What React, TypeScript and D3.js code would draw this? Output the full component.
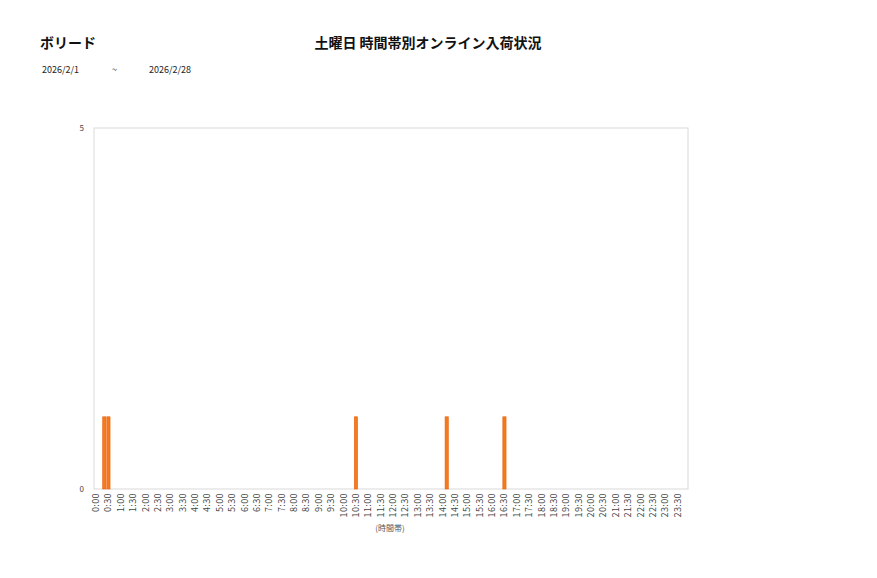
import { useEffect, useRef } from "react";
import * as d3 from "d3";

const W = 877;
const H = 578;
const PLOT = { left: 94, right: 688, top: 128, bottom: 489 };
const FONT = "'Noto Sans CJK JP', 'Noto Sans', sans-serif";

// 10-minute slots across the day; every third one gets a tick label.
const SLOTS: string[] = d3.range(0, 24 * 60, 10).map(
  (m) => `${Math.floor(m / 60)}:${String(m % 60).padStart(2, "0")}`
);
const TICK_LABELS: string[] = SLOTS.filter((_, i) => i % 3 === 0);

// Slots that had arrivals, and how many.
const HIT_SLOTS = ["0:20", "0:30", "10:30", "14:10", "16:30"];
const HIT_COUNTS = [1, 1, 1, 1, 1];

const Y_TICKS = [0, 5];

const TITLE = "土曜日 時間帯別オンライン入荷状況";
const SHOP = "ボリード";
const DATE_FROM = "2026/2/1";
const DATE_TO = "2026/2/28";

export default function App() {
  const svgRef = useRef<SVGSVGElement | null>(null);

  useEffect(() => {
    const svg = d3.select(svgRef.current);
    svg.selectAll("*").remove();

    const series = SLOTS.map((s) => {
      const i = HIT_SLOTS.indexOf(s);
      return { slot: s, value: i < 0 ? 0 : HIT_COUNTS[i] };
    });

    const x = d3
      .scaleBand<string>()
      .domain(SLOTS)
      .range([PLOT.left, PLOT.right])
      .paddingInner(0.22)
      .paddingOuter(0.11);
    const step = (PLOT.right - PLOT.left) / SLOTS.length;
    const y = d3.scaleLinear().domain([0, 5]).range([PLOT.bottom, PLOT.top]);

    svg.append("rect").attr("width", W).attr("height", H).attr("fill", "#fff");

    // headers
    svg
      .append("text")
      .attr("x", 40)
      .attr("y", 48)
      .attr("font-size", 14)
      .attr("font-weight", 600)
      .attr("fill", "#111")
      .text(SHOP);
    svg
      .append("text")
      .attr("x", 428)
      .attr("y", 48)
      .attr("text-anchor", "middle")
      .attr("font-size", 14)
      .attr("font-weight", 600)
      .attr("fill", "#111")
      .text(TITLE);
    const dates = svg.append("g").attr("font-size", 9).attr("fill", "#222");
    dates.append("text").attr("x", 42).attr("y", 73).text(DATE_FROM);
    dates.append("text").attr("x", 112).attr("y", 73).text("~");
    dates.append("text").attr("x", 149).attr("y", 73).text(DATE_TO);

    // plot frame
    svg
      .append("rect")
      .attr("x", PLOT.left)
      .attr("y", PLOT.top)
      .attr("width", PLOT.right - PLOT.left)
      .attr("height", PLOT.bottom - PLOT.top)
      .attr("fill", "none")
      .attr("stroke", "#d9d9d9")
      .attr("stroke-width", 1);

    // bars
    svg
      .append("g")
      .selectAll("rect")
      .data(series.filter((d) => d.value > 0))
      .join("rect")
      .attr("x", (d) => x(d.slot)!)
      .attr("y", (d) => y(d.value))
      .attr("width", x.bandwidth())
      .attr("height", (d) => y(0) - y(d.value))
      .attr("fill", "#f57a1c")
      .attr("stroke", "#e8620e")
      .attr("stroke-width", 0.6);

    // y axis labels
    svg
      .append("g")
      .selectAll("text")
      .data(Y_TICKS)
      .join("text")
      .attr("x", 84)
      .attr("y", (d) => y(d) + 3)
      .attr("text-anchor", "end")
      .attr("font-size", 8)
      .attr("fill", "#444")
      .text((d) => d);

    // x tick labels, rotated
    svg
      .append("g")
      .selectAll("text")
      .data(TICK_LABELS)
      .join("text")
      .attr("transform", (d) => {
        const cx = x(d)! - (step - x.bandwidth()) / 2 + step / 2;
        return `translate(${cx + 3},${PLOT.bottom + 4}) rotate(-90)`;
      })
      .attr("text-anchor", "end")
      .attr("font-size", 9)
      .attr("letter-spacing", 0.4)
      .attr("fill", "#444")
      .text((d) => d);

    svg
      .append("text")
      .attr("x", 390)
      .attr("y", 531)
      .attr("text-anchor", "middle")
      .attr("font-size", 8)
      .attr("fill", "#555")
      .text("(時間帯)");
  }, []);

  return (
    <svg
      ref={svgRef}
      width={W}
      height={H}
      viewBox={`0 0 ${W} ${H}`}
      style={{ position: "absolute", left: 0, top: 0, fontFamily: FONT }}
    />
  );
}
